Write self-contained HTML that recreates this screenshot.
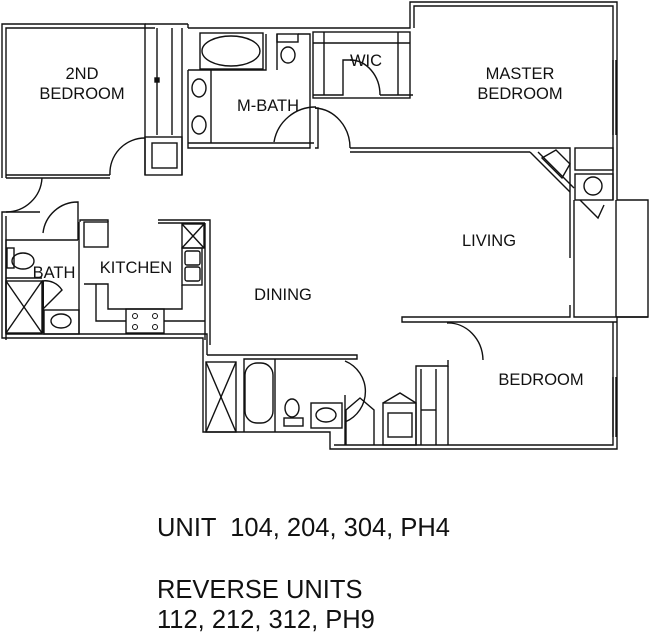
<!DOCTYPE html>
<html><head><meta charset="utf-8"><style>
html,body{margin:0;padding:0;background:#fff;width:650px;height:632px;overflow:hidden}
svg{display:block}
text{font-family:"Liberation Sans",Arial,sans-serif;fill:#111}
</style></head><body>
<svg width="650" height="632" viewBox="0 0 650 632" fill="none" stroke="#111" stroke-width="1.4">
<polyline points="145,175 145,24 2,24 2,178"/>
<polyline points="6,178 6,28 155,28"/>
<line x1="145" y1="24" x2="188" y2="24"/><line x1="188" y1="24" x2="188" y2="28"/>
<polyline points="188,28 410,28 410,2 617,2 617,200 648,200 648,317 617,317 617,449 330,449 330,432 203,432 203,338 2,338 2,212 40,212"/>
<polyline points="414,28 414,6 613,6 613,200"/>
<polyline points="6,216 6,334 207,334 207,355"/>
<polyline points="613,322 613,445 334,445"/>
<polyline points="6,175 110,175"/><polyline points="6,178 110,178"/>
<path d="M110,175 A35,35 0 0 1 145,138"/>
<rect x="145" y="137" width="37" height="38"/><rect x="152" y="143" width="25" height="25"/>
<line x1="157" y1="28" x2="157" y2="135"/><line x1="172" y1="28" x2="172" y2="135"/><line x1="182" y1="28" x2="182" y2="175"/>
<rect x="155" y="78" width="4" height="4" fill="#111"/>
<rect x="200" y="33" width="63" height="36"/><ellipse cx="231" cy="51" rx="29" ry="15"/>
<rect x="277" y="34" width="21" height="8"/><ellipse cx="288" cy="55" rx="7" ry="8"/>
<polyline points="188,70 266,70 266,34"/><line x1="277" y1="34" x2="277" y2="70"/>
<polyline points="298,34 310,34 310,148 188,148 188,70"/>
<line x1="211" y1="70" x2="211" y2="143"/><polyline points="188,143 314,143"/>
<ellipse cx="199" cy="88" rx="7" ry="9"/><ellipse cx="199" cy="125" rx="7" ry="9"/>
<path d="M274,142 A42,42 0 0 1 316,107"/>
<rect x="313" y="32" width="97" height="66"/>
<line x1="313" y1="43" x2="410" y2="43"/><line x1="324" y1="32" x2="324" y2="95"/><line x1="398" y1="32" x2="398" y2="95"/>
<polyline points="313,95 343,95 343,60 352,60"/><polyline points="380,95 413,95"/>
<path d="M350,60 A30,35 0 0 1 380,95"/>
<polyline points="315,108 318,108 318,148 315,148"/>
<path d="M315,108 A37,40 0 0 1 350,148"/>
<polyline points="350,148 570,148 570,210"/><polyline points="350,152 530,152"/>
<polyline points="530,152 570,192"/><polyline points="538,152 574,188"/>
<polygon points="542,158 556,150 570,164 562,178"/>
<rect x="575" y="148" width="38" height="22"/><rect x="575" y="174" width="38" height="26"/>
<circle cx="593" cy="186" r="9"/>
<polyline points="580,200 598,218 604,205"/>
<line x1="613" y1="60" x2="613" y2="135"/><line x1="616" y1="60" x2="616" y2="135"/>
<polyline points="574,200 574,317 648,317"/><polyline points="570,210 570,258"/><polyline points="570,305 570,317 402,317 402,322 617,322"/>
<line x1="616" y1="200" x2="616" y2="317"/>
<path d="M447,323 A35,38 0 0 1 483,360"/>
<polyline points="448,360 448,366 416,366 416,445"/><polyline points="448,366 448,445"/>
<line x1="421" y1="369" x2="421" y2="445"/><line x1="436" y1="369" x2="436" y2="445"/><line x1="421" y1="410" x2="436" y2="410"/>
<line x1="613" y1="377" x2="613" y2="437"/><line x1="616" y1="377" x2="616" y2="437"/>
<rect x="383" y="403" width="33" height="42"/><rect x="388" y="413" width="24" height="24"/>
<polyline points="383,403 400,393 416,403"/>
<polyline points="346,445 346,410 360,398 374,410 374,445"/>
<polyline points="207,355 357,355 357,359 244,359 244,432"/>
<rect x="206" y="362" width="30" height="70"/><line x1="206" y1="362" x2="236" y2="432"/><line x1="236" y1="362" x2="206" y2="432"/>
<rect x="245" y="363" width="28" height="60" rx="12"/>
<line x1="275" y1="359" x2="275" y2="432"/>
<ellipse cx="292" cy="408" rx="7" ry="9"/><rect x="284" y="418" width="19" height="8"/>
<rect x="311" y="403" width="31" height="25"/><ellipse cx="326" cy="415" rx="10" ry="7"/>
<path d="M345,361 A33,33 0 0 1 345,422"/><line x1="345" y1="395" x2="345" y2="445"/>
<path d="M6,212 A36,36 0 0 0 42,178"/>
<path d="M43,233 A35,35 0 0 1 78,202 L78,240"/>
<polyline points="78,240 6,240 6,340"/>
<rect x="7" y="248" width="7" height="20"/><ellipse cx="23" cy="261" rx="11" ry="8"/>
<line x1="6" y1="278" x2="42" y2="278"/>
<rect x="6" y="281" width="36" height="52"/><line x1="6" y1="281" x2="42" y2="333"/><line x1="42" y1="281" x2="6" y2="333"/>
<path d="M42,281 A20,20 0 0 1 62,290 L42,310"/>
<line x1="43" y1="281" x2="43" y2="333" stroke-width="2"/>
<rect x="44" y="310" width="35" height="24"/><ellipse cx="61" cy="321" rx="10" ry="7"/>
<line x1="79" y1="222" x2="79" y2="334"/>
<polyline points="80,222 80,220 108,220 108,222"/>
<rect x="84" y="222" width="24" height="25"/>
<polyline points="158,220 210,220 210,345"/><line x1="158" y1="223" x2="205" y2="223"/>
<line x1="205" y1="223" x2="205" y2="340"/>
<rect x="182" y="224" width="22" height="24"/><line x1="182" y1="224" x2="204" y2="248"/><line x1="204" y1="224" x2="182" y2="248"/>
<rect x="182" y="248" width="20" height="37"/><rect x="185" y="251" width="15" height="14" rx="2"/><rect x="185" y="267" width="15" height="14" rx="2"/>
<polyline points="84,284 108,284 108,309 182,309 182,285"/>
<polyline points="96,284 96,321 126,321"/>
<rect x="126" y="309" width="38" height="24"/><line x1="164" y1="321" x2="205" y2="321"/>
<g stroke-width="1"><circle cx="135" cy="316" r="2.5"/><circle cx="155" cy="316" r="2.5"/><circle cx="135" cy="327" r="2.5"/><circle cx="155" cy="327" r="2.5"/></g>
<g stroke="none" fill="#111" font-size="16.5">
<text x="82" y="79" text-anchor="middle">2ND</text>
<text x="82" y="99" text-anchor="middle">BEDROOM</text>
<text x="268" y="111" text-anchor="middle">M-BATH</text>
<text x="366" y="66" text-anchor="middle">WIC</text>
<text x="520" y="79" text-anchor="middle">MASTER</text>
<text x="520" y="99" text-anchor="middle">BEDROOM</text>
<text x="489" y="246" text-anchor="middle">LIVING</text>
<text x="136" y="273" text-anchor="middle">KITCHEN</text>
<text x="54" y="278" text-anchor="middle">BATH</text>
<text x="283" y="300" text-anchor="middle">DINING</text>
<text x="541" y="385" text-anchor="middle">BEDROOM</text>
</g>
<g stroke="none" fill="#111" font-size="25.5">
<text x="157" y="536" xml:space="preserve">UNIT  104, 204, 304, PH4</text>
<text x="157" y="598">REVERSE UNITS</text>
<text x="157" y="628">112, 212, 312, PH9</text>
</g>
</svg>
</body></html>
